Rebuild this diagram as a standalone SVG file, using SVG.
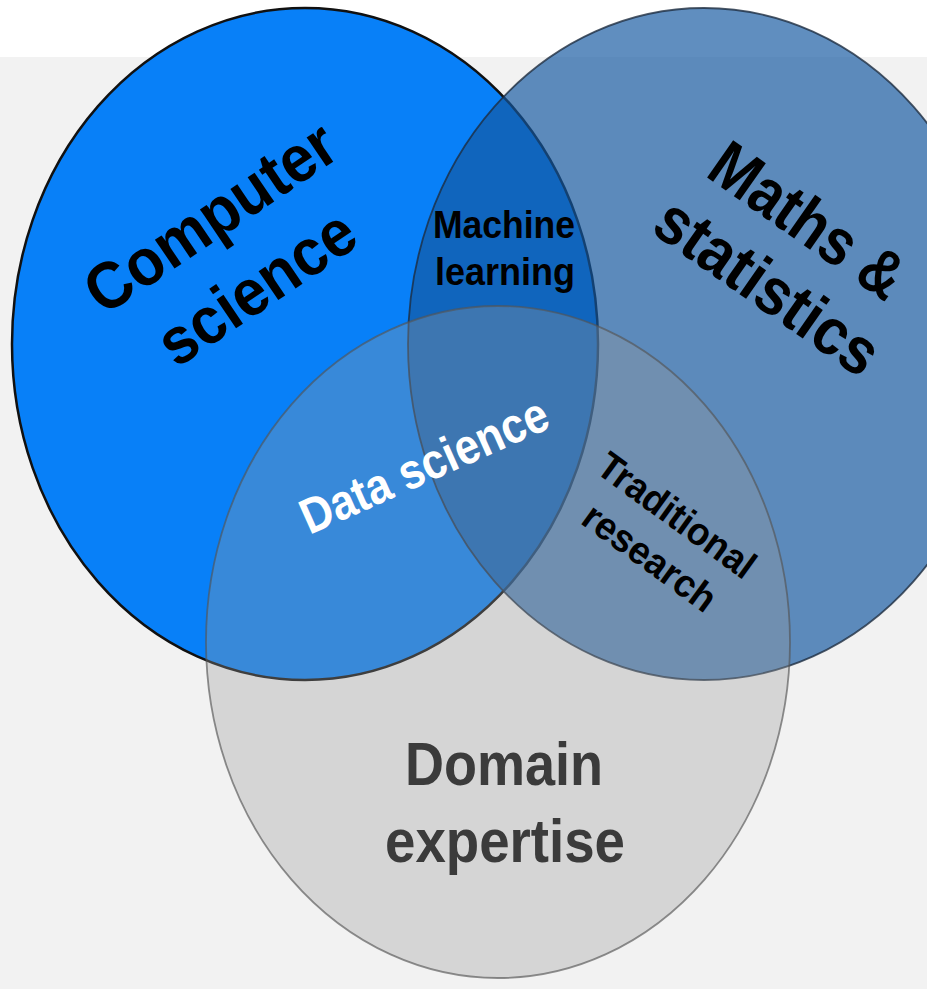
<svg xmlns="http://www.w3.org/2000/svg" width="927" height="989" viewBox="0 0 927 989">
  <style>
    .lbl { font-family: "Liberation Sans", Arial, sans-serif; font-weight: bold; text-anchor: middle; }
    .big { font-size: 66px; fill: #000; }
    .mid { font-size: 39px; fill: #000; }
    .ds { font-size: 50px; fill: #fff; }
    .dom { font-size: 62px; fill: #3b3b3b; }
  </style>
  <rect x="0" y="0" width="927" height="989" fill="#ffffff"/>
  <rect x="0" y="57" width="927" height="932" fill="#f2f2f2"/>

  <g id="node-computer-science">
    <ellipse cx="305" cy="344" rx="293" ry="336" fill="#0880f8" stroke="#111" stroke-width="2.5"/>
    <g transform="translate(223,236) rotate(-34)">
      <text class="lbl big" x="0" y="0" textLength="288" lengthAdjust="spacingAndGlyphs">Computer</text>
      <text class="lbl big" x="-1" y="84" textLength="224" lengthAdjust="spacingAndGlyphs">science</text>
    </g>
  </g>

  <g id="node-maths-statistics">
    <ellipse cx="704" cy="344" rx="296" ry="336" fill="rgb(20,88,160)" fill-opacity="0.68" stroke="#1e2d40" stroke-opacity="0.8" stroke-width="1.8"/>
    <g transform="translate(795,239) rotate(35)">
      <text class="lbl big" x="0" y="0" textLength="222" lengthAdjust="spacingAndGlyphs">Maths &amp;</text>
      <text class="lbl big" x="5" y="77" textLength="258" lengthAdjust="spacingAndGlyphs">statistics</text>
    </g>
  </g>

  <g id="node-domain-expertise">
    <ellipse cx="498" cy="642" rx="292" ry="336" fill="#9a9a9a" fill-opacity="0.33" stroke="#555" stroke-opacity="0.65" stroke-width="1.8"/>
    <text class="lbl dom" x="504" y="785" textLength="198" lengthAdjust="spacingAndGlyphs">Domain</text>
    <text class="lbl dom" x="505" y="862" textLength="240" lengthAdjust="spacingAndGlyphs">expertise</text>
  </g>

  <g id="node-machine-learning">
    <text class="lbl mid" x="504" y="238" textLength="142" lengthAdjust="spacingAndGlyphs">Machine</text>
    <text class="lbl mid" x="505" y="285" textLength="140" lengthAdjust="spacingAndGlyphs">learning</text>
  </g>

  <g id="node-data-science">
    <text class="lbl ds" transform="translate(431,481) rotate(-24)" x="0" y="0" textLength="266" lengthAdjust="spacingAndGlyphs">Data science</text>
  </g>

  <g id="node-traditional-research">
    <g transform="translate(669,526) rotate(36)">
      <text class="lbl mid" x="0" y="0" textLength="185" lengthAdjust="spacingAndGlyphs">Traditional</text>
      <text class="lbl mid" x="3" y="50" textLength="155" lengthAdjust="spacingAndGlyphs">research</text>
    </g>
  </g>

  <g id="connectors"/>
</svg>
